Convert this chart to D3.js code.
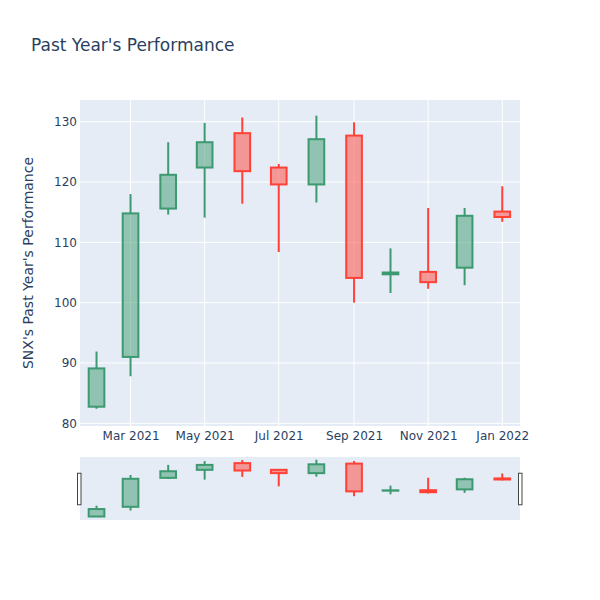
<!DOCTYPE html>
<html><head><meta charset="utf-8">
<script src="https://cdn.jsdelivr.net/npm/d3@7"></script>
<style>body{margin:0;background:#fff} svg{font-family:"DejaVu Sans",sans-serif}</style>
</head><body><svg id="c" width="600" height="600"></svg>
<script>
const dates = ["2021-02-01","2021-03-01","2021-04-01","2021-05-01","2021-06-01","2021-07-01","2021-08-01","2021-09-01","2021-10-01","2021-11-01","2021-12-01","2022-01-01"];
const open  = [82.75, 91.0, 115.6, 122.4, 128.1, 122.4, 119.6, 127.7, 104.7, 105.1, 105.8, 115.1];
const high  = [91.9, 118.0, 126.6, 129.8, 130.7, 123.0, 131.0, 129.9, 109.0, 115.7, 115.7, 119.3];
const low   = [82.4, 87.8, 114.6, 114.1, 116.4, 108.4, 116.6, 100.0, 101.6, 102.3, 102.9, 113.4];
const close = [89.1, 114.8, 121.2, 126.6, 121.8, 119.6, 127.1, 104.1, 105.0, 103.4, 114.4, 114.2];
const yTicks = [80, 90, 100, 110, 120, 130];
const titleText = "Past Year's Performance";
const yTitle = "SNX's Past Year's Performance";

const DAY = 864e5;
const data = dates.map((d, i) => ({date: new Date(d + "T00:00:00Z"), o: open[i], h: high[i], l: low[i], c: close[i]}));

const svg = d3.select("#c");
const W = 600;
const plot = {x0: 80, x1: 520, y0: 100, y1: 426};
const slider = {y0: 457, y1: 520};
const textColor = "#2a3f5f";
const inc = {line: "#3D9970", fill: "rgba(61,153,112,0.5)"};
const dec = {line: "#FF4136", fill: "rgba(255,65,54,0.5)"};

const x = d3.scaleUtc()
  .domain([new Date(data[0].date - 13.6 * DAY), new Date(+data[data.length - 1].date + 14.6 * DAY)])
  .range([plot.x0, plot.x1]);
const y = d3.scaleLinear().domain([79.55, 133.6]).range([plot.y1, plot.y0]);
const ys = d3.scaleLinear().domain([79.8, 133.3]).range([slider.y1, slider.y0]);

// title
svg.append("text").attr("x", 31).attr("y", 51).attr("font-size", 17).attr("fill", textColor).text(titleText);

// plot background
svg.append("rect").attr("x", plot.x0).attr("y", plot.y0).attr("width", plot.x1 - plot.x0).attr("height", plot.y1 - plot.y0).attr("fill", "#E5ECF6");

const xTicks = x.ticks(d3.utcMonth.every(2));
// gridlines
svg.append("g").selectAll("line").data(xTicks).join("line")
  .attr("x1", d => x(d)).attr("x2", d => x(d)).attr("y1", plot.y0).attr("y2", plot.y1)
  .attr("stroke", "#fff").attr("stroke-width", 1);
svg.append("g").selectAll("line").data(yTicks).join("line")
  .attr("x1", plot.x0).attr("x2", plot.x1).attr("y1", d => y(d)).attr("y2", d => y(d))
  .attr("stroke", "#fff").attr("stroke-width", 1);

// axes labels
const xAxis = d3.axisBottom(x).tickValues(xTicks).tickFormat(d3.utcFormat("%b %Y")).tickSize(0).tickPadding(0);
const gx = svg.append("g").attr("transform", `translate(0,${plot.y1})`).call(xAxis);
gx.select(".domain").remove();
gx.selectAll("text").attr("font-size", 12).attr("fill", textColor).attr("font-family", "DejaVu Sans").attr("dy", null).attr("y", 13.5);

const yAxis = d3.axisLeft(y).tickValues(yTicks).tickSize(0).tickPadding(3);
const gy = svg.append("g").attr("transform", `translate(${plot.x0},0)`).call(yAxis);
gy.select(".domain").remove();
gy.selectAll("text").attr("font-size", 12).attr("fill", textColor).attr("font-family", "DejaVu Sans");

svg.append("text").attr("transform", `translate(33,${(plot.y0 + plot.y1) / 2}) rotate(-90)`)
  .attr("text-anchor", "middle").attr("font-size", 14).attr("fill", textColor).text(yTitle);

// candles
const halfW = 6.45 * DAY;
function drawCandles(g, ys_) {
  const c = g.selectAll("g.candle").data(data).join("g").attr("class", "candle");
  c.each(function(d) {
    const gg = d3.select(this);
    const col = d.c >= d.o ? inc : dec;
    const xc = x(d.date), xl = x(new Date(+d.date - halfW)), xr = x(new Date(+d.date + halfW));
    const top = Math.max(d.o, d.c), bot = Math.min(d.o, d.c);
    gg.append("line").attr("x1", xc).attr("x2", xc).attr("y1", ys_(d.h)).attr("y2", ys_(top))
      .attr("stroke", col.line).attr("stroke-width", 2);
    gg.append("line").attr("x1", xc).attr("x2", xc).attr("y1", ys_(bot)).attr("y2", ys_(d.l))
      .attr("stroke", col.line).attr("stroke-width", 2);
    gg.append("rect").attr("x", xl).attr("width", xr - xl)
      .attr("y", ys_(top)).attr("height", Math.max(0, ys_(bot) - ys_(top)))
      .attr("fill", col.fill).attr("stroke", col.line).attr("stroke-width", 2);
  });
}
svg.append("clipPath").attr("id", "clipMain").append("rect").attr("x", plot.x0).attr("y", plot.y0).attr("width", plot.x1 - plot.x0).attr("height", plot.y1 - plot.y0);
drawCandles(svg.append("g").attr("clip-path", "url(#clipMain)"), y);

// range slider
svg.append("rect").attr("x", plot.x0).attr("y", slider.y0).attr("width", plot.x1 - plot.x0).attr("height", slider.y1 - slider.y0).attr("fill", "#E5ECF6");
svg.append("clipPath").attr("id", "clipSl").append("rect").attr("x", plot.x0).attr("y", slider.y0).attr("width", plot.x1 - plot.x0).attr("height", slider.y1 - slider.y0);
drawCandles(svg.append("g").attr("clip-path", "url(#clipSl)"), ys);

const gh = (slider.y1 - slider.y0) / 2;
[plot.x0 - 2.5, plot.x1 - 1.5].forEach(hx => {
  svg.append("rect").attr("x", hx).attr("y", slider.y0 + gh / 2 + 0.5).attr("width", 3.5).attr("height", gh)
    .attr("fill", "#fff").attr("stroke", "#444").attr("stroke-width", 1);
});
</script></body></html>
